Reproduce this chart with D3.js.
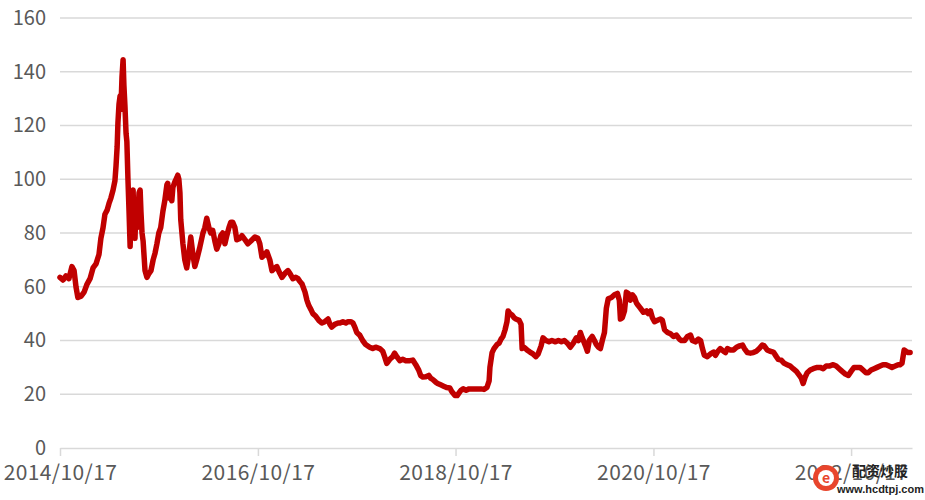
<!DOCTYPE html>
<html>
<head>
<meta charset="utf-8">
<script src="https://cdn.jsdelivr.net/npm/d3@7"></script>
<style>
  body { margin: 0; background: #fff; }
  svg { display: block; }
</style>
</head>
<body>
<div id="chart"></div>
<script>
const dates = [
  '2014-10-17', '2014-10-28', '2014-11-08', '2014-11-19', '2014-11-30', '2014-12-08', '2014-12-15', '2014-12-22',
  '2015-01-03', '2015-01-14', '2015-01-25', '2015-02-05', '2015-02-16', '2015-02-27', '2015-03-10', '2015-03-17',
  '2015-03-25', '2015-04-01', '2015-04-09', '2015-04-16', '2015-04-23', '2015-05-01', '2015-05-08', '2015-05-12',
  '2015-05-16', '2015-05-19', '2015-05-23', '2015-05-27', '2015-05-30', '2015-06-03', '2015-06-07', '2015-06-10',
  '2015-06-14', '2015-06-18', '2015-06-21', '2015-06-25', '2015-06-29', '2015-07-03', '2015-07-06', '2015-07-10',
  '2015-07-14', '2015-07-17', '2015-07-21', '2015-07-25', '2015-07-28', '2015-08-01', '2015-08-05', '2015-08-09',
  '2015-08-12', '2015-08-16', '2015-08-20', '2015-08-27', '2015-09-03', '2015-09-11', '2015-09-18', '2015-09-26',
  '2015-10-03', '2015-10-10', '2015-10-17', '2015-10-24', '2015-11-01', '2015-11-08', '2015-11-12', '2015-11-16',
  '2015-11-19', '2015-11-23', '2015-11-27', '2015-12-04', '2015-12-08', '2015-12-15', '2015-12-22', '2015-12-26',
  '2015-12-30', '2016-01-03', '2016-01-06', '2016-01-14', '2016-01-21', '2016-01-28', '2016-02-05', '2016-02-12',
  '2016-02-20', '2016-02-27', '2016-03-05', '2016-03-16', '2016-03-28', '2016-04-04', '2016-04-11', '2016-04-19',
  '2016-04-26', '2016-05-03', '2016-05-11', '2016-05-18', '2016-05-26', '2016-06-02', '2016-06-09', '2016-06-17',
  '2016-06-24', '2016-07-02', '2016-07-09', '2016-07-16', '2016-07-24', '2016-07-31', '2016-08-11', '2016-08-19',
  '2016-08-30', '2016-09-10', '2016-09-21', '2016-10-06', '2016-10-17', '2016-10-24', '2016-11-01', '2016-11-12',
  '2016-11-19', '2016-11-30', '2016-12-08', '2016-12-19', '2016-12-26', '2017-01-06', '2017-01-14', '2017-01-25',
  '2017-02-05', '2017-02-12', '2017-02-23', '2017-03-06', '2017-03-14', '2017-03-21', '2017-03-29', '2017-04-09',
  '2017-04-16', '2017-04-23', '2017-05-01', '2017-05-08', '2017-05-19', '2017-05-30', '2017-06-10', '2017-06-21',
  '2017-07-03', '2017-07-10', '2017-07-17', '2017-07-28', '2017-08-09', '2017-08-16', '2017-08-27', '2017-09-07',
  '2017-09-14', '2017-09-26', '2017-10-03', '2017-10-10', '2017-10-17', '2017-10-28', '2017-11-08', '2017-11-19',
  '2017-12-04', '2017-12-15', '2017-12-26', '2018-01-10', '2018-01-21', '2018-01-28', '2018-02-05', '2018-02-16',
  '2018-02-27', '2018-03-06', '2018-03-14', '2018-03-25', '2018-04-05', '2018-04-16', '2018-05-01', '2018-05-12',
  '2018-05-23', '2018-06-03', '2018-06-10', '2018-06-18', '2018-06-29', '2018-07-10', '2018-07-17', '2018-07-25',
  '2018-08-05', '2018-08-12', '2018-08-23', '2018-09-03', '2018-09-14', '2018-09-26', '2018-10-03', '2018-10-15',
  '2018-10-23', '2018-10-30', '2018-11-06', '2018-11-14', '2018-11-25', '2018-12-06', '2018-12-17', '2018-12-28',
  '2019-01-08', '2019-01-19', '2019-01-30', '2019-02-10', '2019-02-18', '2019-02-21', '2019-03-01', '2019-03-08',
  '2019-03-19', '2019-03-27', '2019-04-03', '2019-04-10', '2019-04-18', '2019-04-25', '2019-04-29', '2019-05-06',
  '2019-05-14', '2019-05-21', '2019-05-28', '2019-06-09', '2019-06-16', '2019-06-20', '2019-06-27', '2019-07-08',
  '2019-07-19', '2019-07-30', '2019-08-10', '2019-08-18', '2019-08-29', '2019-09-05', '2019-09-16', '2019-09-27',
  '2019-10-08', '2019-10-21', '2019-11-01', '2019-11-12', '2019-11-23', '2019-12-04', '2019-12-15', '2019-12-26',
  '2020-01-06', '2020-01-14', '2020-01-21', '2020-01-28', '2020-02-09', '2020-02-16', '2020-02-23', '2020-03-05',
  '2020-03-13', '2020-03-20', '2020-03-28', '2020-04-04', '2020-04-11', '2020-04-19', '2020-04-26', '2020-05-03',
  '2020-05-15', '2020-05-26', '2020-06-06', '2020-06-13', '2020-06-17', '2020-06-24', '2020-07-02', '2020-07-09',
  '2020-07-16', '2020-07-24', '2020-07-31', '2020-08-08', '2020-08-15', '2020-08-22', '2020-08-30', '2020-09-10',
  '2020-09-21', '2020-09-28', '2020-10-06', '2020-10-13', '2020-10-21', '2020-11-01', '2020-11-12', '2020-11-19',
  '2020-11-27', '2020-12-08', '2020-12-19', '2020-12-30', '2021-01-10', '2021-01-21', '2021-01-28', '2021-02-09',
  '2021-02-20', '2021-03-03', '2021-03-10', '2021-03-21', '2021-04-01', '2021-04-09', '2021-04-16', '2021-04-23',
  '2021-05-04', '2021-05-16', '2021-05-27', '2021-06-03', '2021-06-10', '2021-06-21', '2021-07-03', '2021-07-10',
  '2021-07-17', '2021-07-28', '2021-08-09', '2021-08-20', '2021-08-31', '2021-09-11', '2021-09-18', '2021-09-29',
  '2021-10-10', '2021-10-21', '2021-11-01', '2021-11-12', '2021-11-23', '2021-11-30', '2021-12-11', '2021-12-22',
  '2022-01-03', '2022-01-14', '2022-01-21', '2022-02-01', '2022-02-12', '2022-02-23', '2022-03-06', '2022-03-17',
  '2022-03-29', '2022-04-09', '2022-04-16', '2022-04-23', '2022-05-01', '2022-05-08', '2022-05-19', '2022-05-30',
  '2022-06-14', '2022-06-25', '2022-07-06', '2022-07-17', '2022-07-28', '2022-08-12', '2022-08-23', '2022-09-03',
  '2022-09-14', '2022-09-26', '2022-10-07', '2022-10-17', '2022-10-28', '2022-11-08', '2022-11-19', '2022-11-30',
  '2022-12-11', '2022-12-19', '2022-12-30', '2023-01-10', '2023-01-21', '2023-02-01', '2023-02-12', '2023-02-23',
  '2023-03-06', '2023-03-17', '2023-03-29', '2023-04-09', '2023-04-16', '2023-04-23', '2023-05-01', '2023-05-08',
  '2023-05-16', '2023-05-23'
]

const values = [
  63.5, 62.5, 64, 63, 67.5, 66, 60, 56,
  56.5, 58, 61, 63, 67, 68.5, 72, 78,
  82, 87, 88.5, 91, 93, 96, 99.5, 105,
  112, 121, 128, 131, 126, 138, 144.5, 135,
  127, 117, 114, 100, 88, 75, 85, 95,
  96, 84, 78, 90, 82, 88, 95, 96,
  88, 80, 77, 66, 63.5, 65, 66, 70,
  72.5, 76, 80, 82, 88, 92, 95, 98,
  98.5, 93, 94, 92, 97, 99, 100.5, 101.5,
  100, 95, 85, 76, 70, 67, 72, 78.5,
  72, 67.5, 70, 74.5, 80, 82, 85.5, 82,
  80, 81, 77, 74, 76, 79, 80, 76,
  79, 82, 84, 84, 82, 77.5, 78, 79,
  77.5, 76, 77, 78.5, 78, 76, 71, 72,
  73, 70, 66, 67, 67.5, 65, 63.5, 65,
  66, 65, 63, 63.5, 63, 62, 61, 58,
  55, 53, 51.5, 50, 49, 47.5, 46.5, 47,
  48, 46, 45, 46, 46.5, 46.5, 47, 46.5,
  47, 47, 46.5, 45, 43, 42, 40, 38.5,
  37.5, 37, 37.5, 37, 36, 34, 31.5, 33,
  34, 35.3, 34, 32.5, 33, 32.5, 32.5, 32.7,
  31, 29, 27, 26.4, 26.5, 27, 26, 25.5,
  24.5, 24, 23.5, 23, 22.5, 22.3, 21, 19.5,
  19.5, 20.5, 21.5, 22, 21.5, 22, 22, 22,
  22, 22, 21.8, 22.5, 25, 30, 35.5, 37,
  38.5, 39, 40.5, 41.5, 44, 47, 51, 50,
  49.5, 48.5, 48, 47.5, 46, 37, 37.5, 36.5,
  35.7, 35, 34, 35, 38, 41, 40, 39.5,
  40, 39.5, 40, 39.5, 40, 39, 37.5, 39,
  41, 40, 43, 41, 38, 36, 40, 41.5,
  40, 38.5, 37.5, 37, 40, 43, 52, 55.5,
  56, 57, 57.5, 55, 48, 48.5, 51, 58,
  57.5, 55, 57, 56, 54, 53, 52, 50.5,
  51, 50, 51, 48.5, 47, 47.5, 48, 47.5,
  44, 43, 42.5, 41.5, 42, 40.5, 40, 40,
  41.5, 42, 40, 39.5, 40.5, 40, 37, 34.5,
  34, 35, 35.7, 34.5, 35.7, 37, 36, 35.5,
  37, 36.5, 36.5, 37.5, 38, 38.3, 37, 35.5,
  35.3, 35.5, 36, 37, 38.3, 38, 36.5, 36,
  35.7, 34, 33, 32.7, 31.5, 31, 30.5, 29.5,
  28.5, 27, 26, 24, 26.5, 28, 29, 29.5,
  30, 30, 29.5, 30.5, 30.5, 31, 30.5, 29.5,
  28.5, 27.5, 27, 28.5, 30, 30, 30, 29,
  28, 28, 29, 29.5, 30, 30.5, 31, 31,
  30.5, 30, 30.5, 31, 31, 31.5, 36.5, 36,
  35.5, 35.5
]

const tickDates = ['2014-10-17', '2016-10-17', '2018-10-17', '2020-10-17', '2022-10-17']
const yTicks = [0, 20, 40, 60, 80, 100, 120, 140, 160]
const domainEnd = '2023-05-30'

const width = 925
const height = 500
const margin = { top: 18, right: 13, bottom: 52, left: 60 }
const parse = d3.timeParse('%Y-%m-%d')
const fmt = d3.timeFormat('%Y/%m/%d')

const data = dates.map((d, i) => ({ date: parse(d), value: values[i] }))

const svg = d3.select('#chart').append('svg')
  .attr('width', width)
  .attr('height', height)

const x = d3.scaleTime()
  .domain([parse(dates[0]), parse(domainEnd)])
  .range([margin.left, width - margin.right])

const y = d3.scaleLinear()
  .domain([0, 160])
  .range([height - margin.bottom, margin.top])

const font = '"Noto Sans CJK SC", "Noto Sans", sans-serif'

// gridlines
svg.append('g')
  .selectAll('line')
  .data(yTicks.filter(d => d > 0))
  .enter()
  .append('line')
  .attr('x1', margin.left)
  .attr('x2', width - margin.right)
  .attr('y1', d => y(d))
  .attr('y2', d => y(d))
  .attr('stroke', '#d9d9d9')
  .attr('stroke-width', 1.5)

// y axis labels
const yAxis = svg.append('g')
  .attr('transform', `translate(${margin.left},0)`)
  .call(d3.axisLeft(y).tickValues(yTicks).tickSize(0).tickPadding(14))
yAxis.select('.domain').remove()
yAxis.selectAll('text')
  .attr('font-family', font)
  .attr('font-size', 20)
  .attr('fill', '#595959')

// x axis
const xAxis = svg.append('g')
  .attr('transform', `translate(0,${y(0)})`)
  .call(d3.axisBottom(x)
    .tickValues(tickDates.map(parse))
    .tickFormat(fmt)
    .tickSizeInner(8)
    .tickSizeOuter(0)
    .tickPadding(9))
xAxis.select('.domain').attr('stroke', '#d9d9d9').attr('stroke-width', 1.5)
xAxis.selectAll('.tick line').attr('stroke', '#d9d9d9').attr('stroke-width', 1.5)
xAxis.selectAll('text')
  .attr('font-family', font)
  .attr('font-size', 21)
  .attr('letter-spacing', 0.4)
  .attr('fill', '#595959')

// the series
svg.append('path')
  .datum(data)
  .attr('fill', 'none')
  .attr('stroke', '#c00000')
  .attr('stroke-width', 5.5)
  .attr('stroke-linejoin', 'round')
  .attr('stroke-linecap', 'round')
  .attr('d', d3.line().x(d => x(d.date)).y(d => y(d.value)))

// watermark
const wm = svg.append('g').attr('transform', 'translate(826,478)')
wm.append('circle').attr('r', 13).attr('fill', '#e8452c')
wm.append('circle').attr('r', 8).attr('fill', '#fff')
wm.append('text')
  .attr('text-anchor', 'middle')
  .attr('dy', '0.35em')
  .attr('font-family', font)
  .attr('font-weight', 700)
  .attr('font-size', 14)
  .attr('fill', '#e8452c')
  .text('e')
svg.append('text')
  .attr('x', 852)
  .attr('y', 476)
  .attr('font-family', font)
  .attr('font-weight', 700)
  .attr('font-size', 14)
  .attr('fill', '#222')
  .text('配资炒股')
svg.append('text')
  .attr('x', 837)
  .attr('y', 493)
  .attr('font-family', '"Liberation Sans", sans-serif')
  .attr('font-weight', 700)
  .attr('font-size', 11)
  .attr('fill', '#222')
  .text('www.hcdtpj.com')
</script>
</body>
</html>
